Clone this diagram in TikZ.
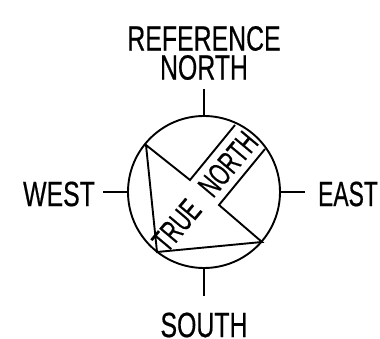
\documentclass[tikz,border=0pt]{standalone}
\usepackage{fontspec}
\setmainfont{Liberation Sans}
\newfontfamily\heavyface[FakeBold=0.6]{Liberation Sans}
\tikzset{
  lbltext/.style={inner sep=0pt,align=center,transform shape},
  lbl/.style={lbltext,xscale=0.71,font=\fontsize{35}{29}\heavyface},
  dial/.style={circle,draw,line width=1.9pt,minimum size=152pt,inner sep=0pt},
  ln/.style={line width=1.9pt,line join=miter}
}
\begin{document}
\begin{tikzpicture}[x=1pt,y=-1pt]
\useasboundingbox (0,0) rectangle (380,339);
\fill[white] (0,0) rectangle (380,339);
\node[dial] (c) at (204,192) {};
\node[lbl] (ref) at (204,53) {REFERENCE\\NORTH};
\node[lbl] (west) at (59,194) {WEST};
\node[lbl,xscale=0.92] (east) at (348,194) {EAST};
\node[lbl] (south) at (204,325) {SOUTH};
\coordinate (tn) at (204,89);
\coordinate (tw) at (103,192);
\coordinate (te) at (305,192);
\coordinate (ts) at (204,296);
\draw[ln] (tn) -- (c.north);
\draw[ln] (tw) -- (c.west);
\draw[ln] (te) -- (c.east);
\draw[ln] (ts) -- (c.south);
\coordinate (a) at (146,145);
\coordinate (b) at (190,180);
\coordinate (d) at (235,125);
\coordinate (e) at (265,149);
\coordinate (f) at (219,205);
\coordinate (g) at (262,242);
\coordinate (h) at (157,252);
\draw[ln] (d) -- (b) -- (a) -- (h) -- (g) -- (f) -- (e);
\node[lbltext,rotate=50,xscale=0.64,font=\fontsize{32}{32}\heavyface] (tt) at (205,191.5) {TRUE\hspace*{16pt} NORTH};
\end{tikzpicture}
\end{document}
